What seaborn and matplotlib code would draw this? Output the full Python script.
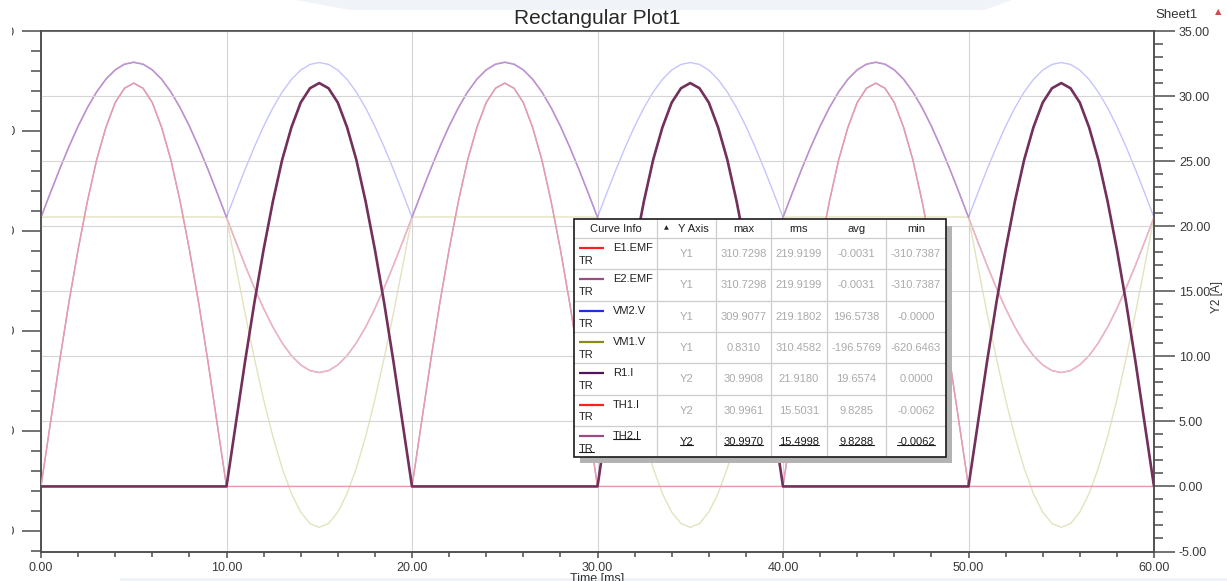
import numpy as np
import matplotlib
matplotlib.use("Agg")
import matplotlib.pyplot as plt
from matplotlib.patches import Rectangle, Polygon
from matplotlib.lines import Line2D
from matplotlib.ticker import MultipleLocator, FixedLocator, FormatStrFormatter
import seaborn as sns

# ---------------------------------------------------------------- data
# transient samples, 0.5 ms step over three 50 Hz cycles
time_ms = np.arange(0.0, 60.25, 0.5)

# source EMFs [V] (Y1)
e1_emf = [
    0.0,
    48.6, 96.0, 141.1, 182.6, 219.7, 251.4, 276.9, 295.5, 306.9, 310.73, 306.9, 295.5, 276.9, 251.4, 219.7, 182.6, 141.1, 96.0, 48.6, 0.0,
    -48.6, -96.0, -141.1, -182.6, -219.7, -251.4, -276.9, -295.5, -306.9, -310.74, -306.9, -295.5, -276.9, -251.4, -219.7, -182.6, -141.1, -96.0, -48.6, 0.0,
    48.6, 96.0, 141.1, 182.6, 219.7, 251.4, 276.9, 295.5, 306.9, 310.73, 306.9, 295.5, 276.9, 251.4, 219.7, 182.6, 141.1, 96.0, 48.6, 0.0,
    -48.6, -96.0, -141.1, -182.6, -219.7, -251.4, -276.9, -295.5, -306.9, -310.74, -306.9, -295.5, -276.9, -251.4, -219.7, -182.6, -141.1, -96.0, -48.6, 0.0,
    48.6, 96.0, 141.1, 182.6, 219.7, 251.4, 276.9, 295.5, 306.9, 310.73, 306.9, 295.5, 276.9, 251.4, 219.7, 182.6, 141.1, 96.0, 48.6, 0.0,
    -48.6, -96.0, -141.1, -182.6, -219.7, -251.4, -276.9, -295.5, -306.9, -310.74, -306.9, -295.5, -276.9, -251.4, -219.7, -182.6, -141.1, -96.0, -48.6, 0.0,
]
e2_emf = [
    0.0,
    48.6, 96.0, 141.1, 182.6, 219.7, 251.4, 276.9, 295.5, 306.9, 310.73, 306.9, 295.5, 276.9, 251.4, 219.7, 182.6, 141.1, 96.0, 48.6, 0.0,
    -48.6, -96.0, -141.1, -182.6, -219.7, -251.4, -276.9, -295.5, -306.9, -310.74, -306.9, -295.5, -276.9, -251.4, -219.7, -182.6, -141.1, -96.0, -48.6, 0.0,
    48.6, 96.0, 141.1, 182.6, 219.7, 251.4, 276.9, 295.5, 306.9, 310.73, 306.9, 295.5, 276.9, 251.4, 219.7, 182.6, 141.1, 96.0, 48.6, 0.0,
    -48.6, -96.0, -141.1, -182.6, -219.7, -251.4, -276.9, -295.5, -306.9, -310.74, -306.9, -295.5, -276.9, -251.4, -219.7, -182.6, -141.1, -96.0, -48.6, 0.0,
    48.6, 96.0, 141.1, 182.6, 219.7, 251.4, 276.9, 295.5, 306.9, 310.73, 306.9, 295.5, 276.9, 251.4, 219.7, 182.6, 141.1, 96.0, 48.6, 0.0,
    -48.6, -96.0, -141.1, -182.6, -219.7, -251.4, -276.9, -295.5, -306.9, -310.74, -306.9, -295.5, -276.9, -251.4, -219.7, -182.6, -141.1, -96.0, -48.6, 0.0,
]
# load voltage (full-wave rectified) [V] (Y1)
vm2_v = [
    0.0,
    48.5, 95.8, 140.7, 182.2, 219.1, 250.7, 276.1, 294.7, 306.1, 309.91, 306.1, 294.7, 276.1, 250.7, 219.1, 182.2, 140.7, 95.8, 48.5, 0.0,
    48.5, 95.8, 140.7, 182.2, 219.1, 250.7, 276.1, 294.7, 306.1, 309.91, 306.1, 294.7, 276.1, 250.7, 219.1, 182.2, 140.7, 95.8, 48.5, 0.0,
    48.5, 95.8, 140.7, 182.2, 219.1, 250.7, 276.1, 294.7, 306.1, 309.91, 306.1, 294.7, 276.1, 250.7, 219.1, 182.2, 140.7, 95.8, 48.5, 0.0,
    48.5, 95.8, 140.7, 182.2, 219.1, 250.7, 276.1, 294.7, 306.1, 309.91, 306.1, 294.7, 276.1, 250.7, 219.1, 182.2, 140.7, 95.8, 48.5, 0.0,
    48.5, 95.8, 140.7, 182.2, 219.1, 250.7, 276.1, 294.7, 306.1, 309.91, 306.1, 294.7, 276.1, 250.7, 219.1, 182.2, 140.7, 95.8, 48.5, 0.0,
    48.5, 95.8, 140.7, 182.2, 219.1, 250.7, 276.1, 294.7, 306.1, 309.91, 306.1, 294.7, 276.1, 250.7, 219.1, 182.2, 140.7, 95.8, 48.5, 0.0,
]
# thyristor TH1 voltage [V] (Y1): forward drop while conducting, blocking otherwise
vm1_v = [
    0.0,
    0.70, 0.75, 0.78, 0.80, 0.81, 0.82, 0.82, 0.83, 0.83, 0.83, 0.83, 0.83, 0.82, 0.82, 0.81, 0.80, 0.78, 0.75, 0.70, 0.0,
    -97.1, -191.8, -281.8, -364.8, -438.9, -502.1, -553.0, -590.3, -613.0, -620.65, -613.0, -590.3, -553.0, -502.1, -438.9, -364.8, -281.8, -191.8, -97.1, 0.0,
    0.70, 0.75, 0.78, 0.80, 0.81, 0.82, 0.82, 0.83, 0.83, 0.83, 0.83, 0.83, 0.82, 0.82, 0.81, 0.80, 0.78, 0.75, 0.70, 0.0,
    -97.1, -191.8, -281.8, -364.8, -438.9, -502.1, -553.0, -590.3, -613.0, -620.65, -613.0, -590.3, -553.0, -502.1, -438.9, -364.8, -281.8, -191.8, -97.1, 0.0,
    0.70, 0.75, 0.78, 0.80, 0.81, 0.82, 0.82, 0.83, 0.83, 0.83, 0.83, 0.83, 0.82, 0.82, 0.81, 0.80, 0.78, 0.75, 0.70, 0.0,
    -97.1, -191.8, -281.8, -364.8, -438.9, -502.1, -553.0, -590.3, -613.0, -620.65, -613.0, -590.3, -553.0, -502.1, -438.9, -364.8, -281.8, -191.8, -97.1, 0.0,
]
# currents [A] (Y2)
r1_i = [
    0.0,
    4.8, 9.6, 14.1, 18.2, 21.9, 25.1, 27.6, 29.5, 30.6, 30.99, 30.6, 29.5, 27.6, 25.1, 21.9, 18.2, 14.1, 9.6, 4.8, 0.0,
    4.8, 9.6, 14.1, 18.2, 21.9, 25.1, 27.6, 29.5, 30.6, 30.99, 30.6, 29.5, 27.6, 25.1, 21.9, 18.2, 14.1, 9.6, 4.8, 0.0,
    4.8, 9.6, 14.1, 18.2, 21.9, 25.1, 27.6, 29.5, 30.6, 30.99, 30.6, 29.5, 27.6, 25.1, 21.9, 18.2, 14.1, 9.6, 4.8, 0.0,
    4.8, 9.6, 14.1, 18.2, 21.9, 25.1, 27.6, 29.5, 30.6, 30.99, 30.6, 29.5, 27.6, 25.1, 21.9, 18.2, 14.1, 9.6, 4.8, 0.0,
    4.8, 9.6, 14.1, 18.2, 21.9, 25.1, 27.6, 29.5, 30.6, 30.99, 30.6, 29.5, 27.6, 25.1, 21.9, 18.2, 14.1, 9.6, 4.8, 0.0,
    4.8, 9.6, 14.1, 18.2, 21.9, 25.1, 27.6, 29.5, 30.6, 30.99, 30.6, 29.5, 27.6, 25.1, 21.9, 18.2, 14.1, 9.6, 4.8, 0.0,
]
th1_i = [
    0.0,
    4.8, 9.6, 14.1, 18.2, 21.9, 25.1, 27.6, 29.5, 30.6, 31.00, 30.6, 29.5, 27.6, 25.1, 21.9, 18.2, 14.1, 9.6, 4.8, 0.0,
    0.0, 0.0, 0.0, 0.0, 0.0, 0.0, 0.0, 0.0, 0.0, 0.0, 0.0, 0.0, 0.0, 0.0, 0.0, 0.0, 0.0, 0.0, 0.0, 0.0,
    4.8, 9.6, 14.1, 18.2, 21.9, 25.1, 27.6, 29.5, 30.6, 31.00, 30.6, 29.5, 27.6, 25.1, 21.9, 18.2, 14.1, 9.6, 4.8, 0.0,
    0.0, 0.0, 0.0, 0.0, 0.0, 0.0, 0.0, 0.0, 0.0, 0.0, 0.0, 0.0, 0.0, 0.0, 0.0, 0.0, 0.0, 0.0, 0.0, 0.0,
    4.8, 9.6, 14.1, 18.2, 21.9, 25.1, 27.6, 29.5, 30.6, 31.00, 30.6, 29.5, 27.6, 25.1, 21.9, 18.2, 14.1, 9.6, 4.8, 0.0,
    0.0, 0.0, 0.0, 0.0, 0.0, 0.0, 0.0, 0.0, 0.0, 0.0, 0.0, 0.0, 0.0, 0.0, 0.0, 0.0, 0.0, 0.0, 0.0, 0.0,
]
th2_i = [
    0.0,
    0.0, 0.0, 0.0, 0.0, 0.0, 0.0, 0.0, 0.0, 0.0, 0.0, 0.0, 0.0, 0.0, 0.0, 0.0, 0.0, 0.0, 0.0, 0.0, 0.0,
    4.8, 9.6, 14.1, 18.2, 21.9, 25.1, 27.6, 29.5, 30.6, 31.00, 30.6, 29.5, 27.6, 25.1, 21.9, 18.2, 14.1, 9.6, 4.8, 0.0,
    0.0, 0.0, 0.0, 0.0, 0.0, 0.0, 0.0, 0.0, 0.0, 0.0, 0.0, 0.0, 0.0, 0.0, 0.0, 0.0, 0.0, 0.0, 0.0, 0.0,
    4.8, 9.6, 14.1, 18.2, 21.9, 25.1, 27.6, 29.5, 30.6, 31.00, 30.6, 29.5, 27.6, 25.1, 21.9, 18.2, 14.1, 9.6, 4.8, 0.0,
    0.0, 0.0, 0.0, 0.0, 0.0, 0.0, 0.0, 0.0, 0.0, 0.0, 0.0, 0.0, 0.0, 0.0, 0.0, 0.0, 0.0, 0.0, 0.0, 0.0,
    4.8, 9.6, 14.1, 18.2, 21.9, 25.1, 27.6, 29.5, 30.6, 31.00, 30.6, 29.5, 27.6, 25.1, 21.9, 18.2, 14.1, 9.6, 4.8, 0.0,
]

# curve-info table contents
curve_names = ["E1.EMF", "E2.EMF", "VM2.V", "VM1.V", "R1.I", "TH1.I", "TH2.I"]
curve_axis = ["Y1", "Y1", "Y1", "Y1", "Y2", "Y2", "Y2"]
curve_max = ["310.7298", "310.7298", "309.9077", "0.8310", "30.9908", "30.9961", "30.9970"]
curve_rms = ["219.9199", "219.9199", "219.1802", "310.4582", "21.9180", "15.5031", "15.4998"]
curve_avg = ["-0.0031", "-0.0031", "196.5738", "-196.5769", "19.6574", "9.8285", "9.8288"]
curve_min = ["-310.7387", "-310.7387", "-0.0000", "-620.6463", "0.0000", "-0.0062", "-0.0062"]
curve_key_colors = ["#ff1f1f", "#9a4c83", "#1c2fe6", "#8a8a1c", "#4e1459", "#ff1f1f", "#9a4c83"]
table_header = ["Curve Info", "Y Axis", "max", "rms", "avg", "min"]

x_ticks = [0, 10, 20, 30, 40, 50, 60]
y1_range = (-669.0, 373.0)
y1_ticks = [373.0, 173.0, -27.0, -227.0, -427.0, -627.0]
y2_range = (-5.0, 35.0)

# ---------------------------------------------------------------- figure
sns.set_style("ticks")
plt.rcParams["font.family"] = ["Liberation Sans", "DejaVu Sans"]

W, H = 1227, 581
fig = plt.figure(figsize=(W / 100, H / 100), dpi=100)
fig.patch.set_facecolor("white")


def fx(px):
    return px / W


def fy(py):
    return 1 - py / H


# pale window-chrome band behind the title
fig.patches.append(Polygon([(fx(296), fy(0)), (fx(1012), fy(0)), (fx(984), fy(10)), (fx(350), fy(10))],
                           closed=True, transform=fig.transFigure, facecolor="#f0f3f8",
                           edgecolor="none", zorder=-1))
fig.patches.append(Rectangle((fx(120), fy(581)), fx(1107), 3.0 / H, transform=fig.transFigure,
                             facecolor="#f0f3f8", edgecolor="none", zorder=-1))

ax = fig.add_axes([fx(41), fy(551.5), (1154 - 41) / W, (551.5 - 31) / H])
ax2 = ax.twinx()

# Y1 curves
sns.lineplot(x=time_ms, y=e2_emf, ax=ax, color="#c9a1c6", lw=1.0, zorder=2)
sns.lineplot(x=time_ms, y=vm1_v, ax=ax, color="#e3e3bf", lw=1.0, zorder=2.5)
sns.lineplot(x=time_ms, y=e1_emf, ax=ax, color="#f1b6c1", lw=1.0, zorder=3)
sns.lineplot(x=time_ms, y=vm2_v, ax=ax, color="#3c3cff", lw=1.0, alpha=0.3, zorder=4)

# Y2 curves
sns.lineplot(x=time_ms, y=r1_i, ax=ax2, color="#c3a0bf", lw=1.0, zorder=2)
sns.lineplot(x=time_ms, y=th1_i, ax=ax2, color="#e89bae", lw=1.0, zorder=3)
sns.lineplot(x=time_ms, y=th2_i, ax=ax2, color="#72305b", lw=1.9, zorder=4)

ax.set_xlim(x_ticks[0], x_ticks[-1])
ax.set_ylim(*y1_range)
ax2.set_ylim(*y2_range)

axis_grey = "#4d4d4d"
label_grey = "#3a3a3a"

ax.xaxis.set_major_locator(FixedLocator(x_ticks))
ax.xaxis.set_minor_locator(MultipleLocator(2))
ax.xaxis.set_major_formatter(FormatStrFormatter("%.2f"))
ax.yaxis.set_major_locator(FixedLocator(y1_ticks))
ax.yaxis.set_minor_locator(FixedLocator([y1_ticks[0] - 40 * k for k in range(27)]))
ax.yaxis.set_major_formatter(FormatStrFormatter("%.2f"))
ax2.yaxis.set_major_locator(MultipleLocator(5))
ax2.yaxis.set_minor_locator(MultipleLocator(1))
ax2.yaxis.set_major_formatter(FormatStrFormatter("%.2f"))

ax.tick_params(axis="y", which="major", direction="out", length=13.7, width=1.1, color=axis_grey,
               labelsize=9, labelcolor=label_grey, pad=5)
ax.tick_params(axis="y", which="minor", direction="out", length=7.2, width=1.1, color=axis_grey)
ax.tick_params(axis="x", which="major", direction="out", length=4.3, width=1.1, color=axis_grey,
               labelsize=9, labelcolor=label_grey, pad=3)
ax.tick_params(axis="x", which="minor", direction="out", length=3.6, width=1.1, color=axis_grey)
ax2.tick_params(axis="y", which="major", direction="out", length=15, width=1.1, color=axis_grey,
                labelsize=9, labelcolor=label_grey, pad=3)
ax2.tick_params(axis="y", which="minor", direction="out", length=6.5, width=1.1, color=axis_grey)

for a in (ax, ax2):
    for sp in a.spines.values():
        sp.set_visible(True)
        sp.set_color(axis_grey)
        sp.set_linewidth(1.1)

ax.grid(False)
ax2.grid(False)
ax.grid(axis="x", which="major", color="#d5d5d5", lw=0.8)
ax2.set_axisbelow(True)
ax2.grid(axis="y", which="major", color="#d5d5d5", lw=0.8)

ax.set_xlabel("Time [ms]", fontsize=9, color="#333333")
ax.xaxis.set_label_coords(0.5, -0.0415)
ax.set_ylabel("")
ax2.set_ylabel("Y2 [A]", fontsize=8.5, color="#333333")
ax2.yaxis.set_label_coords((1217 - 41) / 1113, (551.5 - 297) / 520.5)
ax2.yaxis.label.set_va("center")
ax2.yaxis.label.set_ha("center")

ax.set_title("Rectangular Plot1", fontsize=15, color="#2a2a2a", pad=5)

# the plot window's left border hides most of the Y1 tick labels
fig.patches.append(Rectangle((0, fy(560)), fx(11.5), 545 / H, transform=fig.transFigure,
                             facecolor="white", edgecolor="none", zorder=5))

fig.text(fx(1155), fy(15), "Sheet1", fontsize=9.5, color="#333333", ha="left", va="center")
fig.text(fx(1218), fy(12), "\u25B2", fontsize=6, color="#d84848", ha="center", va="center",
         family=["DejaVu Sans"])

# ---------------------------------------------------------------- curve-info table
tab_left, tab_right = 574, 946
tab_top, head_bot, row_h = 219.5, 238.0, 31.3
col_edges = [574, 657, 716, 771, 827, 886, 946]
tab_bot = head_bot + row_h * len(curve_names)
ZT = 20

fig.patches.append(Rectangle((fx(tab_left + 6), fy(tab_bot + 6)), (tab_right - tab_left) / W,
                             (tab_bot - tab_top) / H, transform=fig.transFigure,
                             facecolor="#b3b3b3", edgecolor="none", zorder=ZT))
fig.patches.append(Rectangle((fx(tab_left), fy(tab_bot)), (tab_right - tab_left) / W,
                             (tab_bot - tab_top) / H, transform=fig.transFigure,
                             facecolor="white", edgecolor="none", zorder=ZT + 1))

inner = "#cdcdcd"
for i in range(len(curve_names)):
    yy = head_bot + i * row_h
    fig.add_artist(Line2D([fx(tab_left), fx(tab_right)], [fy(yy), fy(yy)], color=inner, lw=0.9,
                          transform=fig.transFigure, zorder=ZT + 2))
for xx in col_edges[1:-1]:
    fig.add_artist(Line2D([fx(xx), fx(xx)], [fy(tab_top), fy(tab_bot)], color=inner, lw=0.9,
                          transform=fig.transFigure, zorder=ZT + 2))
fig.patches.append(Rectangle((fx(tab_left), fy(tab_bot)), (tab_right - tab_left) / W,
                             (tab_bot - tab_top) / H, transform=fig.transFigure,
                             facecolor="none", edgecolor="#1a1a1a", lw=1.2, zorder=ZT + 3))

col_centers = [(col_edges[j] + col_edges[j + 1]) / 2 for j in range(len(col_edges) - 1)]
hy = (tab_top + head_bot) / 2
txt_kw = dict(fontsize=8, ha="center", va="center", zorder=ZT + 4)
fig.text(fx(col_centers[0]), fy(hy), table_header[0], color="#222222", **txt_kw)
fig.text(fx(666), fy(hy - 1), "\u25B2", fontsize=4.5, color="#222222", ha="center", va="center",
         family=["DejaVu Sans"], zorder=ZT + 4)
fig.text(fx(693), fy(hy), table_header[1], color="#222222", **txt_kw)
for j in range(2, 6):
    fig.text(fx(col_centers[j]), fy(hy), table_header[j], color="#222222", **txt_kw)

underlined = []
for i, name in enumerate(curve_names):
    top = head_bot + i * row_h
    selected = i == len(curve_names) - 1
    fig.add_artist(Line2D([fx(579), fx(604)], [fy(top + 10), fy(top + 10)],
                          color=curve_key_colors[i], lw=1.6, transform=fig.transFigure,
                          zorder=ZT + 4, solid_capstyle="butt"))
    t_name = fig.text(fx(613), fy(top + 10), name, fontsize=8, color="#202020", ha="left",
                      va="center", zorder=ZT + 4)
    t_tr = fig.text(fx(579), fy(top + 23), "TR", fontsize=8, color="#202020", ha="left",
                    va="center", zorder=ZT + 4)
    vals = [curve_axis[i], curve_max[i], curve_rms[i], curve_avg[i], curve_min[i]]
    vcol = "#1a1a1a" if selected else "#aaaaaa"
    row_texts = []
    for j, v in enumerate(vals):
        row_texts.append(fig.text(fx(col_centers[j + 1]), fy(top + 16), v, color=vcol, **txt_kw))
    if selected:
        underlined.extend([t_name, t_tr] + row_texts)

fig.canvas.draw()
renderer = fig.canvas.get_renderer()
for t in underlined:
    bb = t.get_window_extent(renderer)
    yb = bb.y0 + 1.5
    fig.add_artist(Line2D([bb.x0 / W, bb.x1 / W], [yb / H, yb / H], color="#1a1a1a", lw=0.8,
                          transform=fig.transFigure, zorder=ZT + 4))

fig.savefig("out.png", dpi=100)
